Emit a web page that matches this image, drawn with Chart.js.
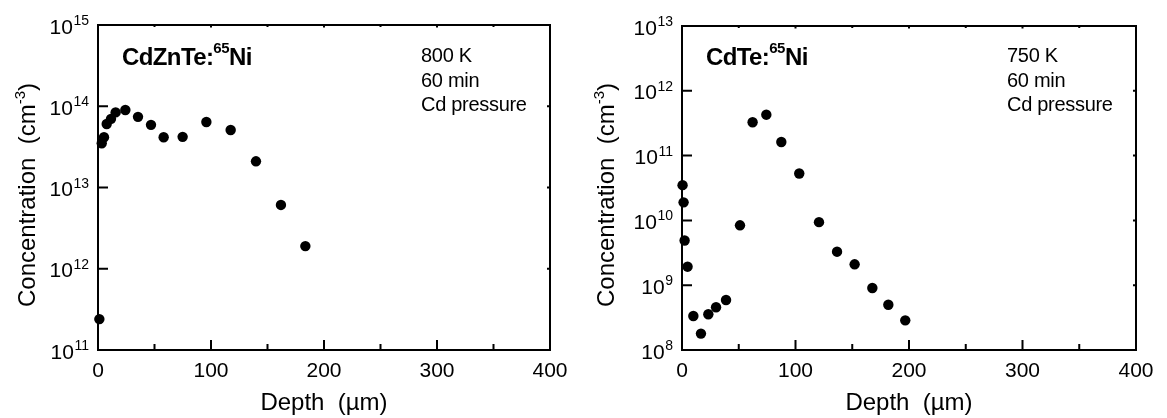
<!DOCTYPE html>
<html><head><meta charset="utf-8">
<script src="https://cdn.jsdelivr.net/npm/chart.js@4.4.1/dist/chart.umd.min.js"></script>
<style>
html,body{margin:0;padding:0;background:#fff;}
#wrap{position:relative;width:1167px;height:418px;background:#fff;}
canvas{position:absolute;top:0;}
</style></head><body>
<div id="wrap">
<canvas id="c1" width="583" height="418" style="left:0"></canvas>
<canvas id="c2" width="584" height="418" style="left:583px"></canvas>
</div>
<script>
// ---- data ----
const cznDepth = [1.2, 3.3, 5.3, 7.7, 11.5, 15.6, 24.2, 35.4, 46.9, 58.1, 74.9, 95.9, 117.4, 139.8, 161.9, 183.5];
const cznConc  = [2.4e11, 3.5e13, 4.15e13, 6.05e13, 7.0e13, 8.4e13, 9.0e13, 7.4e13, 5.9e13, 4.15e13, 4.2e13, 6.4e13, 5.1e13, 2.1e13, 6.1e12, 1.9e12];

const cdteDepth = [0.5, 1.4, 2.3, 4.9, 10, 16.7, 23.2, 30, 38.8, 51.1, 62.2, 74.3, 87.5, 103.3, 120.7, 136.6, 152.1, 167.7, 181.8, 196.7];
const cdteConc  = [3.5e10, 1.9e10, 4.9e9, 1.93e9, 3.35e8, 1.79e8, 3.56e8, 4.56e8, 5.9e8, 8.4e9, 3.27e11, 4.28e11, 1.62e11, 5.3e10, 9.4e9, 3.29e9, 2.1e9, 9.06e8, 5.0e8, 2.87e8];

const xTickValues = [0, 100, 200, 300, 400];
const xMinorValues = [50, 150, 250, 350];
const leftExponents = [11, 12, 13, 14, 15];
const rightExponents = [8, 9, 10, 11, 12, 13];

const leftTitle = ['CdZnTe:', '65', 'Ni'];
const rightTitle = ['CdTe:', '65', 'Ni'];
const leftNotes = ['800 K', '60 min', 'Cd pressure'];
const rightNotes = ['750 K', '60 min', 'Cd pressure'];
const xAxisTitle = 'Depth  (\u00b5m)';
const yAxisTitle = ['Concentration  (cm', '-3', ')'];

const FONT = '"Liberation Sans", Arial, Helvetica, sans-serif';

function drawParts(ctx, parts, x, y) {
  let cx = x;
  for (const p of parts) {
    ctx.font = (p.bold ? 'bold ' : '') + p.size + 'px ' + FONT;
    ctx.letterSpacing = (p.ls || 0) + 'px';
    ctx.fillText(p.text, cx, y + (p.dy || 0));
    cx += ctx.measureText(p.text).width + (p.gap || 0);
  }
  ctx.letterSpacing = '0px';
  return cx - x;
}
function measureParts(ctx, parts) {
  let w = 0;
  for (const p of parts) {
    ctx.font = (p.bold ? 'bold ' : '') + p.size + 'px ' + FONT;
    ctx.letterSpacing = (p.ls || 0) + 'px';
    w += ctx.measureText(p.text).width + (p.gap || 0);
  }
  ctx.letterSpacing = '0px';
  return w;
}

const framePlugin = {
  id: 'frame',
  afterDraw(chart, args, o) {
    const ctx = chart.ctx;
    const a = chart.chartArea;
    const xs = chart.scales.x, ys = chart.scales.y;
    ctx.save();
    ctx.strokeStyle = '#000';
    ctx.fillStyle = '#000';
    ctx.lineWidth = 2;
    ctx.strokeRect(a.left, a.top, a.right - a.left, a.bottom - a.top);
    ctx.beginPath();
    // x ticks
    for (const v of xTickValues) {
      const px = xs.getPixelForValue(v);
      ctx.moveTo(px, a.bottom); ctx.lineTo(px, a.bottom - 10);
      ctx.moveTo(px, a.top); ctx.lineTo(px, a.top + 2.5);
    }
    for (const v of xMinorValues) {
      const px = xs.getPixelForValue(v);
      ctx.moveTo(px, a.bottom); ctx.lineTo(px, a.bottom - 6);
      ctx.moveTo(px, a.top); ctx.lineTo(px, a.top + 2);
    }
    // y ticks
    for (const e of o.exps) {
      const py = ys.getPixelForValue(Math.pow(10, e));
      ctx.moveTo(a.left, py); ctx.lineTo(a.left + 10, py);
      ctx.moveTo(a.right, py); ctx.lineTo(a.right - 3, py);
    }
    ctx.stroke();

    ctx.textBaseline = 'alphabetic';
    // x tick labels
    ctx.font = '21px ' + FONT;
    ctx.textAlign = 'center';
    xTickValues.forEach(v => {
      ctx.fillText(String(v), xs.getPixelForValue(v), 377);
    });
    // y tick labels
    ctx.textAlign = 'left';
    for (const e of o.exps) {
      const py = ys.getPixelForValue(Math.pow(10, e));
      const parts = [{text: '10', size: 21, dy: 8.5, gap: 0.5}, {text: String(e), size: 14, dy: 0}];
      const w = measureParts(ctx, parts);
      drawParts(ctx, parts, a.left - 9 - w, py);
    }
    // x axis title
    ctx.font = '24px ' + FONT;
    ctx.textAlign = 'center';
    ctx.fillText(xAxisTitle, (a.left + a.right) / 2, 410);
    // y axis title
    ctx.save();
    ctx.translate(o.yTitleX, 195);
    ctx.rotate(-Math.PI / 2);
    ctx.textAlign = 'left';
    const yParts = [{text: yAxisTitle[0], size: 24}, {text: yAxisTitle[1], size: 15, dy: -10}, {text: yAxisTitle[2], size: 24}];
    const yw = measureParts(ctx, yParts);
    drawParts(ctx, yParts, -yw / 2, 0);
    ctx.restore();
    // panel title
    ctx.textAlign = 'left';
    drawParts(ctx, [
      {text: o.title[0], size: 24, bold: true, ls: -0.6},
      {text: o.title[1], size: 15, bold: true, dy: -12, ls: -0.5},
      {text: o.title[2], size: 24, bold: true, ls: -0.6}
    ], o.titleX, 65);
    // notes
    ctx.font = '20px ' + FONT;
    ctx.letterSpacing = '-0.3px';
    o.notes.forEach((t, i) => ctx.fillText(t, o.notesX, 62 + i * 24.5));
    ctx.restore();
  }
};

function makeChart(id, xs, ys, yMin, yMax, yWidth, padRight, padTop, plug) {
  const pts = xs.map((x, i) => ({x: x, y: ys[i]}));
  return new Chart(document.getElementById(id), {
    type: 'scatter',
    data: {datasets: [{data: pts, backgroundColor: '#000', borderWidth: 0, pointRadius: 5.2, pointHoverRadius: 5.2, clip: false}]},
    options: {
      responsive: false,
      animation: false,
      events: [],
      layout: {autoPadding: false, padding: {left: 0, right: padRight, top: padTop, bottom: 0}},
      plugins: {legend: {display: false}, tooltip: {enabled: false}, frame: plug},
      scales: {
        x: {type: 'linear', min: 0, max: 400, grid: {display: false}, border: {display: false},
            ticks: {display: false}, afterFit: s => { s.height = 68; }},
        y: {type: 'logarithmic', min: yMin, max: yMax, grid: {display: false}, border: {display: false},
            ticks: {display: false}, afterFit: s => { s.width = yWidth; }}
      }
    },
    plugins: [framePlugin]
  });
}

makeChart('c1', cznDepth, cznConc, 1e11, 1e15, 98, 33, 25,
  {exps: leftExponents, title: leftTitle, notes: leftNotes, titleX: 122, notesX: 421, yTitleX: 35});
makeChart('c2', cdteDepth, cdteConc, 1e8, 1e13, 99, 31, 26,
  {exps: rightExponents, title: rightTitle, notes: rightNotes, titleX: 123, notesX: 424, yTitleX: 31});
</script>
</body></html>
